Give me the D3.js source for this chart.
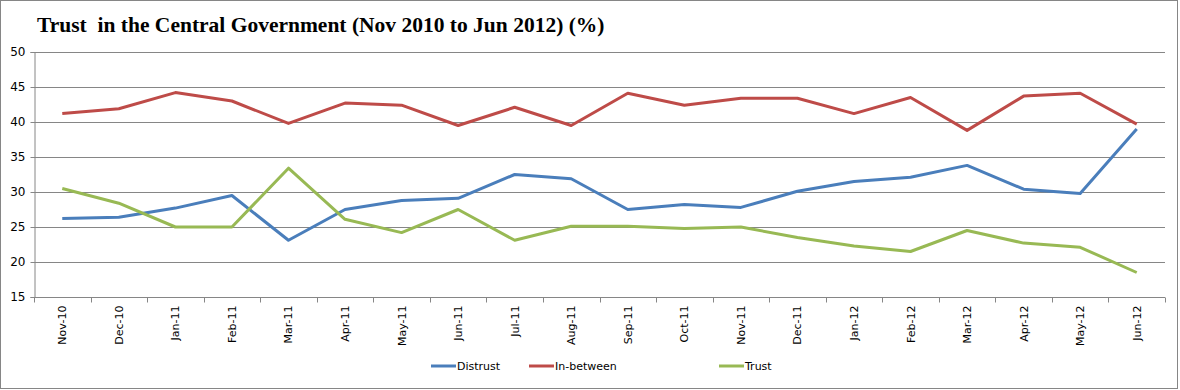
<!DOCTYPE html>
<html>
<head>
<meta charset="utf-8">
<script src="https://cdn.jsdelivr.net/npm/d3@7"></script>
<style>
  html, body { margin: 0; padding: 0; background: #fff; }
  svg { display: block; }
</style>
</head>
<body>
<svg id="chart" width="1180" height="390"></svg>
<script>
// Trust in the Central Government, monthly survey shares (%)
const months = ['Nov-10', 'Dec-10', 'Jan-11', 'Feb-11', 'Mar-11', 'Apr-11', 'May-11', 'Jun-11',
  'Jul-11', 'Aug-11', 'Sep-11', 'Oct-11', 'Nov-11', 'Dec-11', 'Jan-12', 'Feb-12',
  'Mar-12', 'Apr-12', 'May-12', 'Jun-12'];
const distrust = [26.2, 26.4, 27.7, 29.5, 23.1, 27.5, 28.8, 29.1, 32.5, 31.9,
  27.5, 28.2, 27.8, 30.1, 31.5, 32.1, 33.8, 30.4, 29.8, 39.0];
const inBetween = [41.2, 41.9, 44.2, 43.0, 39.8, 42.7, 42.4, 39.5, 42.1, 39.5,
  44.1, 42.4, 43.4, 43.4, 41.2, 43.5, 38.8, 43.7, 44.1, 39.7];
const trust = [30.5, 28.4, 25.0, 25.0, 33.4, 26.1, 24.2, 27.5, 23.1, 25.1,
  25.1, 24.8, 25.0, 23.5, 22.3, 21.5, 24.5, 22.7, 22.1, 18.5];
const yTicks = [15, 20, 25, 30, 35, 40, 45, 50];

const series = [
  { name: 'Distrust', values: distrust, color: '#4a7ebb' },
  { name: 'In-between', values: inBetween, color: '#be4b48' },
  { name: 'Trust', values: trust, color: '#98b954' }
];

const svg = d3.select('#chart');
const W = 1180, H = 390;
const plot = { left: 34, right: 1165, top: 52, bottom: 297 };

// outer frame
svg.append('rect')
  .attr('x', 0.5).attr('y', 0.5)
  .attr('width', W - 3).attr('height', H - 2)
  .attr('fill', '#fff').attr('stroke', '#868686');

svg.append('text')
  .attr('x', 37).attr('y', 32)
  .attr('font-family', '"Liberation Serif", "Times New Roman", serif')
  .attr('font-weight', 'bold').attr('font-size', 21.5)
  .attr('fill', '#000')
  .style('white-space', 'pre')
  .text('Trust  in the Central Government (Nov 2010 to Jun 2012) (%)');

const x = d3.scaleBand().domain(months).range([plot.left, plot.right]);
const y = d3.scaleLinear().domain([15, 50]).range([plot.bottom, plot.top]);

const font = '"DejaVu Sans", Verdana, sans-serif';

// gridlines
svg.append('g')
  .selectAll('line')
  .data(yTicks.filter(t => t > 15))
  .join('line')
  .attr('x1', plot.left).attr('x2', plot.right)
  .attr('y1', d => Math.round(y(d)) + 0.5).attr('y2', d => Math.round(y(d)) + 0.5)
  .attr('stroke', '#868686').attr('stroke-width', 1);

// y axis
const yAxis = svg.append('g')
  .attr('transform', `translate(${plot.left + 0.5},0)`)
  .call(d3.axisLeft(y).tickValues(yTicks).tickSize(4).tickPadding(5));
yAxis.select('.domain').attr('stroke', '#868686');
yAxis.selectAll('.tick line').attr('stroke', '#868686');
yAxis.selectAll('.tick text')
  .attr('font-family', font).attr('font-size', 12).attr('fill', '#000');

// x axis: ticks between categories
const xAxis = svg.append('g')
  .attr('transform', `translate(0,${Math.round(plot.bottom) + 0.5})`);
xAxis.append('line')
  .attr('x1', plot.left).attr('x2', plot.right)
  .attr('stroke', '#868686');
xAxis.selectAll('line.tk')
  .data(months.map(m => x(m)).concat([plot.right]))
  .join('line')
  .attr('class', 'tk')
  .attr('x1', d => Math.round(d) + 0.5).attr('x2', d => Math.round(d) + 0.5)
  .attr('y1', 0).attr('y2', 5)
  .attr('stroke', '#868686');
xAxis.selectAll('text')
  .data(months)
  .join('text')
  .attr('transform', d => `translate(${x(d) + x.bandwidth() / 2 + 4},8) rotate(-90)`)
  .attr('text-anchor', 'end')
  .attr('font-family', font).attr('font-size', 11).attr('fill', '#000')
  .text(d => d);

// series lines
const line = d3.line()
  .x((d, i) => x(months[i]) + x.bandwidth() / 2)
  .y(d => y(d));

svg.append('g')
  .selectAll('path')
  .data(series)
  .join('path')
  .attr('d', d => line(d.values))
  .attr('fill', 'none')
  .attr('stroke', d => d.color)
  .attr('stroke-width', 3)
  .attr('stroke-linejoin', 'round');

// legend
const legendX = [431, 529, 719];
const legend = svg.append('g').selectAll('g')
  .data(series)
  .join('g')
  .attr('transform', (d, i) => `translate(${legendX[i]},366)`);
legend.append('line')
  .attr('x1', 0).attr('x2', 25)
  .attr('stroke', d => d.color).attr('stroke-width', 3);
legend.append('text')
  .attr('x', 26).attr('y', 4)
  .attr('font-family', font).attr('font-size', 11).attr('fill', '#000')
  .text(d => d.name);
</script>
</body>
</html>
